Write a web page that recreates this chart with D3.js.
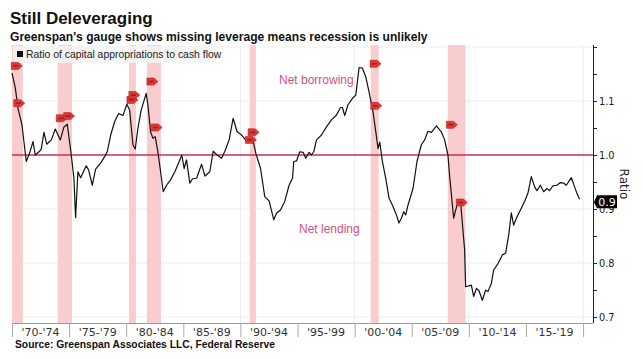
<!DOCTYPE html>
<html>
<head>
<meta charset="utf-8">
<script src="https://cdn.jsdelivr.net/npm/d3@7"></script>
<style>
  body { margin: 0; background: #fff; }
  svg { display: block; }
</style>
</head>
<body>
<div id="chart"></div>
<script>
// ratio of capital appropriations to cash flow
const years = [1970.00, 1970.29, 1970.52, 1970.87, 1971.25, 1971.55, 1971.84, 1972.04, 1972.42, 1972.56,
  1972.80, 1973.04, 1973.44, 1973.79, 1974.23, 1974.55, 1974.84, 1975.19, 1975.42, 1975.57,
  1975.77, 1976.01, 1976.50, 1976.71, 1977.03, 1977.32, 1977.76, 1978.11, 1978.34, 1978.64,
  1978.99, 1979.34, 1979.71, 1980.06, 1980.30, 1980.59, 1980.79, 1981.02, 1981.31, 1981.75,
  1981.90, 1982.13, 1982.34, 1982.54, 1982.77, 1983.01, 1983.24, 1983.53, 1983.88, 1984.26,
  1984.64, 1984.87, 1985.07, 1985.28, 1985.57, 1985.81, 1986.16, 1986.60, 1986.89, 1987.32,
  1987.61, 1987.91, 1988.35, 1988.64, 1989.01, 1989.36, 1989.71, 1990.10, 1990.53, 1990.82,
  1991.06, 1991.35, 1991.76, 1992.13, 1992.51, 1992.92, 1993.16, 1993.51, 1993.88, 1994.26,
  1994.56, 1994.67, 1994.91, 1995.20, 1995.49, 1995.72, 1996.01, 1996.22, 1996.42, 1996.66,
  1997.10, 1997.53, 1997.97, 1998.41, 1998.76, 1998.93, 1999.13, 1999.42, 1999.81, 2000.10,
  2000.39, 2000.68, 2000.97, 2001.26, 2001.61, 2001.91, 2002.05, 2002.20, 2002.43, 2002.72,
  2003.01, 2003.31, 2003.66, 2003.88, 2004.09, 2004.30, 2004.47, 2004.67, 2005.11, 2005.46,
  2005.84, 2006.13, 2006.42, 2006.72, 2007.16, 2007.59, 2007.88, 2008.17, 2008.32, 2008.67,
  2008.96, 2009.26, 2009.43, 2009.63, 2009.72, 2010.22, 2010.42, 2010.66, 2010.88, 2011.18,
  2011.47, 2011.67, 2011.97, 2012.17, 2012.55, 2012.93, 2013.22, 2013.51, 2013.72, 2013.92,
  2014.16, 2014.44, 2014.88, 2015.17, 2015.47, 2015.76, 2015.96, 2016.26, 2016.55, 2016.84,
  2017.07, 2017.36, 2017.71, 2018.01, 2018.29, 2018.53, 2018.97, 2019.26, 2019.46, 2019.70];
const ratio = [1.152, 1.124, 1.087, 1.056, 0.988, 1.004, 1.025, 1.000, 1.007, 1.011,
  1.042, 1.020, 1.028, 1.048, 1.028, 1.052, 1.057, 1.000, 0.957, 0.884,
  0.969, 0.958, 0.980, 0.972, 0.944, 0.974, 0.985, 0.997, 1.006, 1.037,
  1.062, 1.077, 1.073, 1.094, 1.083, 1.019, 1.011, 1.049, 1.083, 1.114,
  1.093, 1.043, 1.031, 1.034, 1.006, 0.969, 0.932, 0.944, 0.954, 0.969,
  0.988, 1.000, 0.975, 0.991, 0.948, 0.956, 0.957, 0.983, 0.961, 0.969,
  1.007, 1.001, 0.994, 1.007, 1.028, 1.068, 1.043, 1.037, 1.026, 1.025,
  1.031, 1.003, 0.975, 0.923, 0.915, 0.880, 0.892, 0.898, 0.914, 0.944,
  0.957, 0.988, 0.989, 1.006, 1.005, 0.994, 1.005, 1.000, 1.006, 1.028,
  1.037, 1.052, 1.065, 1.074, 1.088, 1.088, 1.073, 1.093, 1.105, 1.111,
  1.162, 1.161, 1.145, 1.117, 1.080, 1.034, 1.012, 1.024, 0.988, 0.957,
  0.920, 0.907, 0.889, 0.874, 0.883, 0.895, 0.889, 0.907, 0.938, 0.988,
  1.019, 1.028, 1.044, 1.042, 1.054, 1.043, 1.028, 1.000, 0.960, 0.883,
  0.907, 0.917, 0.874, 0.824, 0.756, 0.759, 0.738, 0.753, 0.749, 0.731,
  0.750, 0.747, 0.762, 0.787, 0.799, 0.815, 0.818, 0.855, 0.893, 0.870,
  0.883, 0.895, 0.914, 0.929, 0.960, 0.941, 0.934, 0.944, 0.932, 0.938,
  0.934, 0.943, 0.944, 0.949, 0.948, 0.944, 0.958, 0.941, 0.929, 0.918];

// shaded recessions
const recessionStart = [1970.0, 1974.0, 1980.24, 1981.81, 1990.82, 2001.41, 2008.15];
const recessionEnd   = [1970.95, 1975.25, 1980.85, 1983.04, 1991.35, 2002.11, 2009.72];

// red event tags
const markerYears  = [1970.38, 1970.59, 1974.31, 1974.96, 1980.50, 1980.67, 1982.25, 1982.62,
  1990.88, 1991.11, 2001.79, 2001.85, 2008.47, 2009.34];
const markerValues = [1.165, 1.096, 1.068, 1.072, 1.102, 1.111, 1.136, 1.051,
  1.028, 1.042, 1.169, 1.091, 1.056, 0.912];

const periodStarts = [1970, 1975, 1980, 1985, 1990, 1995, 2000, 2005, 2010, 2015];
const periodLabels = ["'70-'74", "'75-'79", "'80-'84", "'85-'89", "'90-'94", "'95-'99",
  "'00-'04", "'05-'09", "'10-'14", "'15-'19"];
const yLabelTicks = [0.7, 0.8, 0.9, 1.0, 1.1];
const lastLabel = '0.9';

const width = 643, height = 359;
const plot = {left: 12, right: 593, top: 45, bottom: 323};

const svg = d3.select('#chart').append('svg')
  .attr('width', width)
  .attr('height', height);

const x = d3.scaleLinear().domain([1970, 2020.87]).range([plot.left, plot.right]);
const y = d3.scaleLinear().domain([0.6889, 1.2037]).range([plot.bottom, plot.top]);

// title block
svg.append('text').attr('x', 10).attr('y', 24)
  .style('font', 'bold 17px "Liberation Sans", Arial, sans-serif')
  .attr('fill', '#111').text('Still Deleveraging');
svg.append('text').attr('x', 10).attr('y', 41)
  .style('font', 'bold 12.1px "Liberation Sans", Arial, sans-serif')
  .attr('fill', '#111').text("Greenspan's gauge shows missing leverage means recession is unlikely");

// grid
svg.append('g').selectAll('line')
  .data([0.7, 0.8, 0.9, 1.1, 1.2])
  .join('line')
  .attr('x1', plot.left).attr('x2', plot.right)
  .attr('y1', d => y(d)).attr('y2', d => y(d))
  .attr('stroke', '#ededed').attr('stroke-width', 1);
svg.append('g').selectAll('line')
  .data([1990, 2000, 2010, 2020])
  .join('line')
  .attr('x1', d => x(d)).attr('x2', d => x(d))
  .attr('y1', plot.top).attr('y2', plot.bottom)
  .attr('stroke', '#ededed').attr('stroke-width', 1);

// recession bands
svg.append('g').selectAll('rect')
  .data(recessionStart)
  .join('rect')
  .attr('x', d => x(d))
  .attr('width', (d, i) => x(recessionEnd[i]) - x(d))
  .attr('y', plot.top).attr('height', plot.bottom - plot.top)
  .attr('fill', '#f9cdce');

// legend
svg.append('rect').attr('x', 13).attr('y', 46).attr('width', 203).attr('height', 17)
  .attr('fill', '#f4f4f4').attr('opacity', 0.9);
svg.append('rect').attr('x', 17).attr('y', 51).attr('width', 6).attr('height', 6).attr('fill', '#111');
svg.append('text').attr('x', 26).attr('y', 58)
  .style('font', '10.4px "Liberation Sans", Arial, sans-serif')
  .attr('fill', '#222').text('Ratio of capital appropriations to cash flow');

// zone labels
svg.append('text').attr('x', 279).attr('y', 84)
  .style('font', '12px "Liberation Sans", Arial, sans-serif')
  .attr('fill', '#d4507f').text('Net borrowing');
svg.append('text').attr('x', 299).attr('y', 233)
  .style('font', '12px "Liberation Sans", Arial, sans-serif')
  .attr('fill', '#d4507f').text('Net lending');

// reference line at 1.0
svg.append('line')
  .attr('x1', plot.left).attr('x2', plot.right)
  .attr('y1', y(1)).attr('y2', y(1))
  .attr('stroke', '#c8304f').attr('stroke-width', 1.6);

// series
const line = d3.line()
  .x((d, i) => x(years[i]))
  .y(d => y(d));
svg.append('path')
  .datum(ratio)
  .attr('d', line)
  .attr('fill', 'none')
  .attr('stroke', '#111')
  .attr('stroke-width', 1.2)
  .attr('stroke-linejoin', 'round');

// event tags
const tag = svg.append('g').selectAll('g')
  .data(markerYears)
  .join('g')
  .attr('transform', (d, i) => `translate(${x(d)},${y(markerValues[i])})`);
tag.append('path')
  .attr('d', 'M-5,-3.5 L2,-3.5 L6,0 L2,3.5 L-5,3.5 Z')
  .attr('fill', '#db3a34')
  .attr('stroke', '#b8201e')
  .attr('stroke-width', 0.6)
  .attr('stroke-linejoin', 'round');
tag.append('rect')
  .attr('x', -3).attr('y', -0.8).attr('width', 5).attr('height', 1.6)
  .attr('fill', '#7a1010').attr('opacity', 0.6);

// bottom axis: separators with centred period labels
const xAxis = svg.append('g')
  .attr('transform', `translate(0,${plot.bottom})`)
  .call(d3.axisBottom(x)
    .tickValues(periodStarts.concat([2020]))
    .tickSize(14)
    .tickFormat(''));
xAxis.select('.domain').attr('stroke', '#999').attr('d', `M${plot.left},0.5H${plot.right}`);
xAxis.selectAll('.tick line').attr('stroke', '#aaa');

svg.append('g').selectAll('text')
  .data(periodStarts)
  .join('text')
  .attr('x', d => x(d + 2.5))
  .attr('y', 336)
  .attr('text-anchor', 'middle')
  .style('font', '11px "DejaVu Sans", Verdana, sans-serif')
  .attr('fill', '#333')
  .text((d, i) => periodLabels[i]);

// right axis
const yAxis = svg.append('g')
  .attr('transform', `translate(${plot.right},0)`)
  .call(d3.axisRight(y)
    .tickValues(d3.range(0.7, 1.2001, 0.05))
    .tickSize(4)
    .tickPadding(2)
    .tickFormat(d => yLabelTicks.some(t => Math.abs(t - d) < 1e-6) ? d3.format('.1f')(d) : ''));
yAxis.select('.domain').attr('stroke', '#222').attr('d', `M0.5,${plot.top}V${plot.bottom}`);
yAxis.selectAll('.tick line').attr('stroke', '#222');
yAxis.selectAll('.tick text')
  .style('font', '9.8px "DejaVu Sans", Verdana, sans-serif')
  .attr('fill', '#222');

svg.append('text')
  .attr('transform', 'translate(620,184) rotate(90)')
  .attr('text-anchor', 'middle')
  .style('font', '12px "DejaVu Sans", Verdana, sans-serif')
  .attr('fill', '#222')
  .text('Ratio');

// last value flag
const lastY = y(ratio[ratio.length - 1]);
svg.append('path')
  .attr('d', `M${plot.right + 1},${lastY + 3} L${plot.right + 4},${lastY - 4} H${plot.right + 24} V${lastY + 9} H${plot.right + 4} Z`)
  .attr('fill', '#000');
svg.append('text')
  .attr('x', plot.right + 14).attr('y', lastY + 6.5)
  .attr('text-anchor', 'middle')
  .style('font', '11px "DejaVu Sans", Verdana, sans-serif')
  .attr('fill', '#fff')
  .text(lastLabel);

// source
svg.append('text').attr('x', 15).attr('y', 348)
  .style('font', 'bold 10.3px "Liberation Sans", Arial, sans-serif')
  .attr('fill', '#111').text('Source: Greenspan Associates LLC, Federal Reserve');
</script>
</body>
</html>
